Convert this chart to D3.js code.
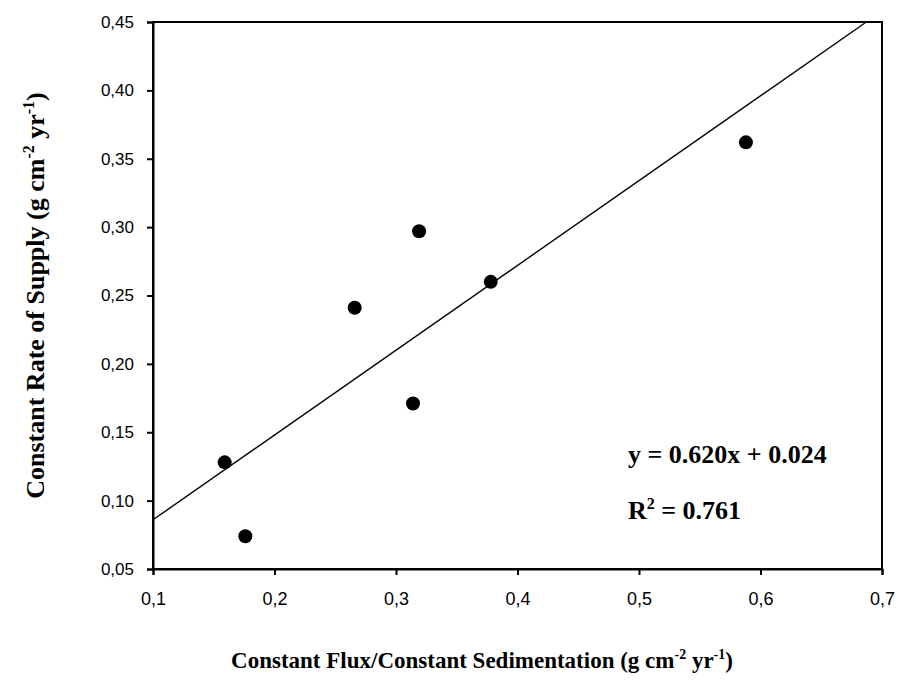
<!DOCTYPE html>
<html>
<head>
<meta charset="utf-8">
<script src="https://cdn.jsdelivr.net/npm/d3@7"></script>
<style>
  body { margin: 0; background: #fff; }
  svg { display: block; }
  .tick text { font-family: "Liberation Sans", Arial, sans-serif; fill: #000; }
  .title { font-family: "Liberation Serif", "Times New Roman", serif; font-weight: bold; fill: #000; }
</style>
</head>
<body>
<svg width="899" height="685"></svg>
<script>
(function (d3) {
  'use strict';

  // data
  const fluxValues = [0.159, 0.176, 0.266, 0.319, 0.314, 0.378, 0.588];
  const supplyValues = [0.128, 0.074, 0.241, 0.297, 0.171, 0.260, 0.362];
  const xTicks = [0.1, 0.2, 0.3, 0.4, 0.5, 0.6, 0.7];
  const yTicks = [0.05, 0.10, 0.15, 0.20, 0.25, 0.30, 0.35, 0.40, 0.45];
  const slope = 0.620, intercept = 0.024, r2 = 0.761;

  const svg = d3.select('svg');
  const margin = { left: 153, top: 22, right: 17, bottom: 116 };
  const width = +svg.attr('width') - margin.left - margin.right;
  const height = +svg.attr('height') - margin.top - margin.bottom;

  const x = d3.scaleLinear().domain([0.1, 0.7]).range([0, width]);
  const y = d3.scaleLinear().domain([0.05, 0.45]).range([height, 0]);

  const g = svg.append('g')
    .attr('transform', `translate(${margin.left},${margin.top})`);

  const comma = d => d3.format('.1f')(d).replace('.', ',');
  const comma2 = d => d3.format('.2f')(d).replace('.', ',');

  // frame
  g.append('rect')
    .attr('width', width).attr('height', height)
    .attr('fill', 'none').attr('stroke', '#000').attr('stroke-width', 2);

  const xAxis = g.append('g')
    .attr('transform', `translate(0,${height})`)
    .call(d3.axisBottom(x).tickValues(xTicks).tickFormat(comma).tickSize(6).tickPadding(17));
  xAxis.selectAll('.tick text').style('font-size', '18px');
  const yAxis = g.append('g')
    .call(d3.axisLeft(y).tickValues(yTicks).tickFormat(comma2).tickSize(6).tickPadding(13));
  yAxis.selectAll('.tick text').style('font-size', '17px');
  [xAxis, yAxis].forEach(a => {
    a.select('.domain').attr('stroke-width', 2);
    a.selectAll('.tick line').attr('stroke-width', 2);
  });

  // regression line, stopped at the top of the frame
  const xEnd = Math.min(0.7, (0.45 - intercept) / slope);
  g.append('line')
    .attr('x1', x(0.1)).attr('y1', y(slope * 0.1 + intercept))
    .attr('x2', x(xEnd)).attr('y2', y(slope * xEnd + intercept))
    .attr('stroke', '#000').attr('stroke-width', 1.4);

  g.selectAll('circle')
    .data(d3.zip(fluxValues, supplyValues))
    .join('circle')
    .attr('cx', d => x(d[0]))
    .attr('cy', d => y(d[1]))
    .attr('r', 7)
    .attr('fill', '#000');

  // equation
  g.append('text').attr('class', 'title')
    .attr('x', 475).attr('y', 441)
    .style('font-size', '26px')
    .text(`y = ${slope.toFixed(3)}x + ${intercept.toFixed(3)}`);
  const r = g.append('text').attr('class', 'title')
    .attr('x', 475).attr('y', 497)
    .style('font-size', '26px');
  r.append('tspan').text('R');
  r.append('tspan').attr('dy', -10).attr('font-size', 16).text('2');
  r.append('tspan').attr('dy', 10).text(` = ${r2.toFixed(3)}`);

  // axis titles with superscripts
  function unitTitle(sel, label, size) {
    const sup = Math.round(size * 0.62), up = Math.round(size * 0.38);
    sel.style('font-size', size + 'px');
    sel.append('tspan').text(label + ' (g cm');
    sel.append('tspan').attr('dy', -up).attr('font-size', sup).text('-2');
    sel.append('tspan').attr('dy', up).text(' yr');
    sel.append('tspan').attr('dy', -up).attr('font-size', sup).text('-1');
    sel.append('tspan').attr('dy', up).text(')');
  }

  const xt = svg.append('text').attr('class', 'title')
    .attr('text-anchor', 'middle')
    .attr('x', 482).attr('y', 668);
  unitTitle(xt, 'Constant Flux/Constant Sedimentation', 23);

  const yt = svg.append('text').attr('class', 'title')
    .attr('text-anchor', 'middle')
    .attr('transform', `translate(44,${margin.top + height / 2}) rotate(-90)`);
  unitTitle(yt, 'Constant Rate of Supply', 26);

}(d3));
</script>
</body>
</html>
